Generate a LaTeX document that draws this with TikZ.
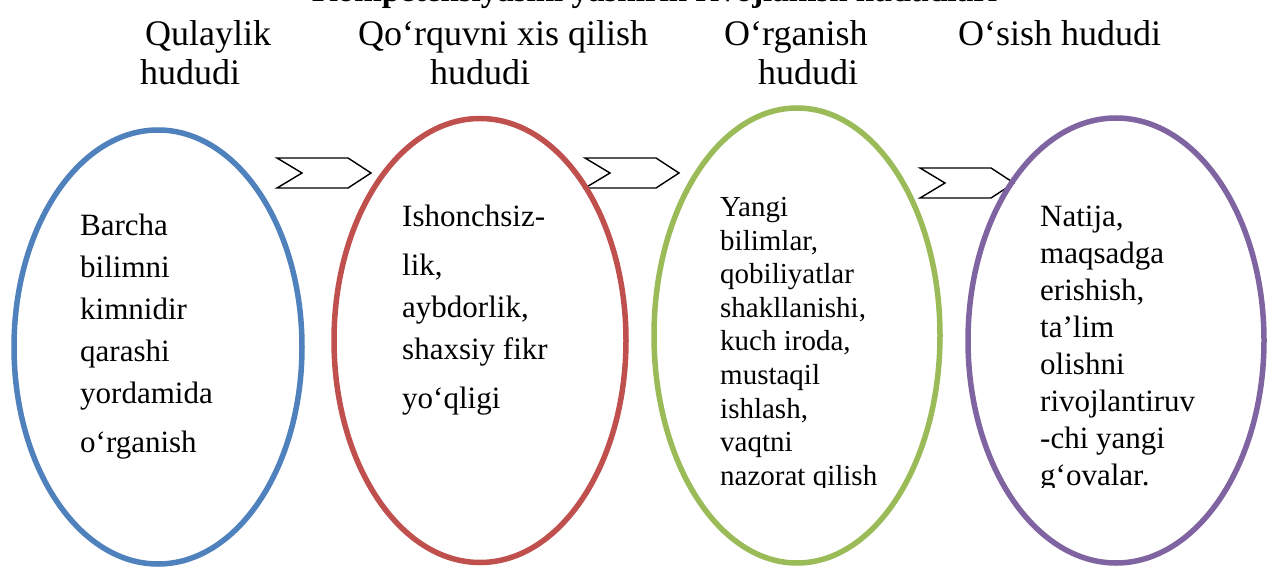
\documentclass[tikz,border=0pt]{standalone}
\usepackage{fontspec}
\setmainfont{Liberation Serif}
\definecolor{cblue}{HTML}{4F81BD}
\definecolor{cred}{HTML}{C0504D}
\definecolor{cgreen}{HTML}{9BBB59}
\definecolor{cpurple}{HTML}{8064A2}
\tikzset{
  zone/.style={line width=5.5pt},
  head/.style={anchor=base west, inner sep=0pt, font=\fontsize{36}{38}\selectfont},
  body/.style={anchor=north west, inner sep=0pt, align=left},
  chev/.style={draw=black, fill=white, line width=1.4pt, line join=miter},
}
\newcommand{\chevron}[1]{%
  \draw[chev] (#1) -- ++(71,0) -- ++(23,15) -- ++(-23,15) -- ++(-71,0) -- ++(25,-15) -- cycle;}
\begin{document}
\begin{tikzpicture}[x=1pt,y=-1pt]
\useasboundingbox (0,0) rectangle (1269,567);
\fill[white] (0,0) rectangle (1269,567);

% cut-off title
\begin{scope}
\clip (0,0) rectangle (1269,567);
\node[anchor=base west, inner sep=0pt, font=\bfseries\fontsize{33}{35}\selectfont] (title) at (312,2) {Kompetensiyasini yashirin rivojlanish hududlari};
\end{scope}

% headers
\node[head] (h1a) at (145,46) {Qulaylik};
\node[head] (h1b) at (140,85) {hududi};
\node[head] (h2a) at (358,46) {Qo‘rquvni xis qilish};
\node[head] (h2b) at (430,85) {hududi};
\node[head] (h3a) at (724,46) {O‘rganish};
\node[head] (h3b) at (758,85) {hududi};
\node[head] (h4) at (958,46) {O‘sish hududi};

% chevrons
\coordinate (c1) at (277,158);
\coordinate (c2) at (585,158);
\coordinate (c3) at (920,168);
\chevron{c1}
\chevron{c2}
\chevron{c3}

% ellipses
\coordinate (e1) at (158,347);
\coordinate (e2) at (480,340.5);
\coordinate (e3) at (797,335.5);
\coordinate (e4) at (1116,340.5);
\draw[zone, cblue] (e1) ellipse [x radius=144, y radius=217];
\draw[zone, cred] (e2) ellipse [x radius=146, y radius=222];
\draw[zone, cgreen] (e3) ellipse [x radius=143, y radius=227.5];
\draw[zone, cpurple] (e4) ellipse [x radius=148, y radius=222.5];

% body texts
\node[body, font=\fontsize{31}{42}\selectfont] (t1) at (80,214)
  {Barcha\\bilimni\\kimnidir\\qarashi\\yordamida\\[7pt]o‘rganish};
\node[body, font=\fontsize{31}{42}\selectfont] (t2) at (402,205)
  {Ishonchsiz-\\[7pt]lik,\\aybdorlik,\\shaxsiy fikr\\[7pt]yo‘qligi};
\begin{scope}
\clip (600,100) rectangle (1269,487);
\node[body, font=\fontsize{29}{33.6}\selectfont] (t3) at (720,197)
  {Yangi\\bilimlar,\\qobiliyatlar\\shakllanishi,\\kuch iroda,\\mustaqil\\ishlash,\\vaqtni\\nazorat qilish};
\node[body, font=\fontsize{31}{37}\selectfont] (t4) at (1040,206)
  {Natija,\\maqsadga\\erishish,\\ta’lim\\olishni\\rivojlantiruv\\-chi yangi\\g‘ovalar.};
\end{scope}
\end{tikzpicture}
\end{document}
